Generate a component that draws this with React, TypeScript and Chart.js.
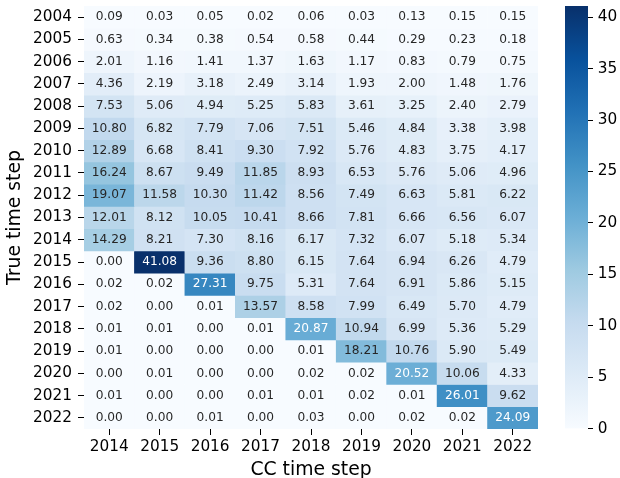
import React, { useEffect, useRef } from "react";
import { Chart, registerables } from "chart.js";

Chart.register(...registerables);

// ---------- data ----------
const trueSteps = ["2004","2005","2006","2007","2008","2009","2010","2011","2012","2013","2014","2015","2016","2017","2018","2019","2020","2021","2022"];
const ccSteps = ["2014","2015","2016","2017","2018","2019","2020","2021","2022"];

// one array per CC time step column, values listed for true steps 2004..2022
const cc2014 = [0.09,0.63,2.01,4.36,7.53,10.80,12.89,16.24,19.07,12.01,14.29,0.00,0.02,0.02,0.01,0.01,0.00,0.01,0.00];
const cc2015 = [0.03,0.34,1.16,2.19,5.06,6.82,6.68,8.67,11.58,8.12,8.21,41.08,0.02,0.00,0.01,0.00,0.01,0.00,0.00];
const cc2016 = [0.05,0.38,1.41,3.18,4.94,7.79,8.41,9.49,10.30,10.05,7.30,9.36,27.31,0.01,0.00,0.00,0.00,0.00,0.01];
const cc2017 = [0.02,0.54,1.37,2.49,5.25,7.06,9.30,11.85,11.42,10.41,8.16,8.80,9.75,13.57,0.01,0.00,0.00,0.01,0.00];
const cc2018 = [0.06,0.58,1.63,3.14,5.83,7.51,7.92,8.93,8.56,8.66,6.17,6.15,5.31,8.58,20.87,0.01,0.02,0.01,0.03];
const cc2019 = [0.03,0.44,1.17,1.93,3.61,5.46,5.76,6.53,7.49,7.81,7.32,7.64,7.64,7.99,10.94,18.21,0.02,0.02,0.00];
const cc2020 = [0.13,0.29,0.83,2.00,3.25,4.84,4.83,5.76,6.63,6.66,6.07,6.94,6.91,6.49,6.99,10.76,20.52,0.01,0.02];
const cc2021 = [0.15,0.23,0.79,1.48,2.40,3.38,3.75,5.06,5.81,6.56,5.18,6.26,5.86,5.70,5.36,5.90,10.06,26.01,0.02];
const cc2022 = [0.15,0.18,0.75,1.76,2.79,3.98,4.17,4.96,6.22,6.07,5.34,4.79,5.15,4.79,5.29,5.49,4.33,9.62,24.09];

const colorbarTicks = [0, 5, 10, 15, 20, 25, 30, 35, 40];

const ccColumns = [cc2014, cc2015, cc2016, cc2017, cc2018, cc2019, cc2020, cc2021, cc2022];

// ---------- colour map (matplotlib "Blues") ----------
const BLUES = ["#f7fbff","#deebf7","#c6dbef","#9ecae1","#6baed6","#4292c6","#2171b5","#08519c","#08306b"];
const hexToRgb = (h: string) => [parseInt(h.slice(1, 3), 16), parseInt(h.slice(3, 5), 16), parseInt(h.slice(5, 7), 16)];
const BLUES_RGB = BLUES.map(hexToRgb);

function bluesRgb(t: number): number[] {
  let idx = Math.floor(Math.max(0, Math.min(1, t)) * 256);
  if (idx > 255) idx = 255;
  const tt = idx / 255;
  const x = tt * 8;
  const i = Math.min(7, Math.floor(x));
  const f = x - i;
  const a = BLUES_RGB[i], b = BLUES_RGB[i + 1];
  return [0, 1, 2].map((k) => a[k] + (b[k] - a[k]) * f);
}
const rgbStr = (c: number[]) => `rgb(${Math.round(c[0])},${Math.round(c[1])},${Math.round(c[2])})`;

function luminance(c: number[]): number {
  const lin = c.map((v) => {
    const s = v / 255;
    return s <= 0.03928 ? s / 12.92 : Math.pow((s + 0.055) / 1.055, 2.4);
  });
  return 0.2126 * lin[0] + 0.7152 * lin[1] + 0.0722 * lin[2];
}

const allValues = ccColumns.flat();
const vmin = Math.min(...allValues);
const vmax = Math.max(...allValues);
const norm = (v: number) => (v - vmin) / (vmax - vmin);

const FONT = "'DejaVu Sans', 'Liberation Sans', sans-serif";

const annotatePlugin = {
  id: "cellAnnotations",
  afterDatasetsDraw(chart: any) {
    const ctx = chart.ctx;
    ctx.save();
    ctx.font = `12.2px ${FONT}`;
    ctx.textAlign = "center";
    ctx.textBaseline = "middle";
    chart.data.datasets.forEach((ds: any, r: number) => {
      const meta = chart.getDatasetMeta(r);
      meta.data.forEach((bar: any, c: number) => {
        const { x, y, base } = bar.getProps(["x", "y", "base"], true);
        const v = ccColumns[c][r];
        const col = bluesRgb(norm(v));
        ctx.fillStyle = luminance(col) > 0.408 ? "#262626" : "#ffffff";
        ctx.fillText(v.toFixed(2), x, (y + base) / 2);
      });
    });
    ctx.restore();
  },
};

export default function App() {
  const mainRef = useRef<HTMLCanvasElement>(null);
  const barRef = useRef<HTMLCanvasElement>(null);

  useEffect(() => {
    const datasets = trueSteps.map((label, r) => ({
      label,
      data: ccColumns.map(() => [r, r + 1]),
      backgroundColor: ccColumns.map((col) => rgbStr(bluesRgb(norm(col[r])))),
      borderWidth: 0,
      grouped: false,
      barPercentage: 1,
      categoryPercentage: 1,
    }));

    const main = new Chart(mainRef.current!, {
      type: "bar",
      data: { labels: ccSteps, datasets: datasets as any },
      options: {
        responsive: false,
        animation: false,
        events: [],
        layout: { padding: { top: 6, left: 0, right: 12, bottom: 0 } },
        plugins: { legend: { display: false }, tooltip: { enabled: false } },
        scales: {
          x: {
            type: "category",
            border: { display: false },
            grid: { display: true, drawOnChartArea: false, drawTicks: true, tickLength: 6, tickColor: "#000", tickWidth: 1, offset: false },
            ticks: { color: "#000", font: { family: FONT, size: 15.3 }, padding: 3, autoSkip: false, maxRotation: 0 },
            title: { display: true, text: "CC time step", color: "#000", font: { family: FONT, size: 18.8, lineHeight: 0.86 }, padding: 0 },
            afterFit: (s: any) => { s.height = 49; s.paddingLeft = 0; s.paddingRight = 0; },
          },
          y: {
            type: "linear",
            reverse: true,
            min: 0,
            max: trueSteps.length,
            border: { display: false },
            grid: { display: true, drawOnChartArea: false, drawTicks: true, tickLength: 6, tickColor: "#000", tickWidth: 1 },
            afterBuildTicks: (s: any) => { s.ticks = trueSteps.map((_, i) => ({ value: i + 0.5 })); },
            ticks: {
              color: "#000",
              font: { family: FONT, size: 15.3 },
              padding: 6,
              autoSkip: false,
              callback: (v: any) => trueSteps[Math.floor(Number(v))],
            },
            title: { display: true, text: "True time step", color: "#000", font: { family: FONT, size: 18.8, lineHeight: 1 }, padding: { top: 6, bottom: 0 } },
            afterFit: (s: any) => { s.width = 84; s.paddingTop = 0; s.paddingBottom = 0; },
          },
        },
      },
      plugins: [annotatePlugin],
    });

    const cbar = new Chart(barRef.current!, {
      type: "bar",
      data: {
        labels: [""],
        datasets: [
          {
            data: [[vmin, vmax]] as any,
            borderWidth: 0,
            barPercentage: 1,
            categoryPercentage: 1,
            backgroundColor: (c: any) => {
              const chart = c.chart;
              const ys = chart.scales?.y;
              if (!chart.chartArea || !ys) return BLUES[4];
              const g = chart.ctx.createLinearGradient(0, ys.getPixelForValue(vmin), 0, ys.getPixelForValue(vmax));
              BLUES.forEach((h, i) => g.addColorStop(i / (BLUES.length - 1), h));
              return g;
            },
          },
        ],
      },
      options: {
        responsive: false,
        animation: false,
        events: [],
        layout: { padding: { top: 6, left: 25, right: 0, bottom: 49.3 } },
        plugins: { legend: { display: false }, tooltip: { enabled: false } },
        scales: {
          x: { display: false, afterFit: (s: any) => { s.height = 0; } },
          y: {
            type: "linear",
            position: "right",
            min: vmin,
            max: vmax,
            border: { display: false },
            grid: { display: true, drawOnChartArea: false, drawTicks: true, tickLength: 5, tickColor: "#000", tickWidth: 1 },
            afterBuildTicks: (s: any) => { s.ticks = colorbarTicks.map((v) => ({ value: v })); },
            ticks: { color: "#000", font: { family: FONT, size: 15.3 }, padding: 4.7, autoSkip: false },
            afterFit: (s: any) => { s.width = 32; s.paddingTop = 0; s.paddingBottom = 0; },
          },
        },
      },
    });

    return () => {
      main.destroy();
      cbar.destroy();
    };
  }, []);

  return (
    <div style={{ position: "absolute", left: 0, top: 0, width: 620, height: 478, background: "#ffffff", overflow: "hidden" }}>
      <canvas ref={mainRef} width={550} height={478} style={{ position: "absolute", left: 0, top: 0, width: 550, height: 478 }} />
      <canvas ref={barRef} width={80} height={478} style={{ position: "absolute", left: 540, top: 0, width: 80, height: 478 }} />
    </div>
  );
}
